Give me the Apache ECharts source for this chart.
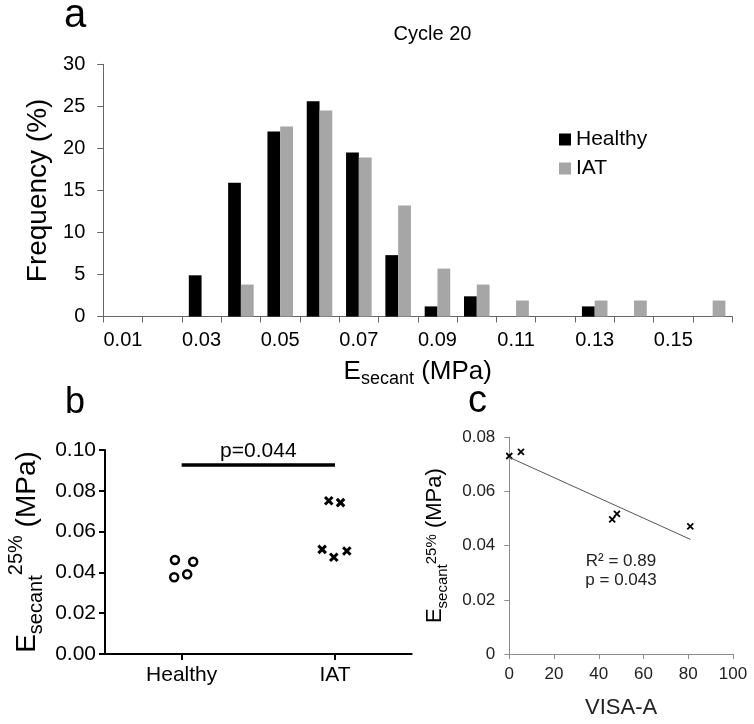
<!DOCTYPE html>
<html>
<head>
<meta charset="utf-8">
<script src="https://cdn.jsdelivr.net/npm/echarts@6/dist/echarts.min.js"></script>
<style>
  html, body { margin: 0; padding: 0; background: #fff; }
  #chart { width: 754px; height: 724px; }
</style>
</head>
<body>
<div id="chart"></div>
<script>
// ---------- Panel a: histogram (Cycle 20) ----------
const bins = ['0.01','0.02','0.03','0.04','0.05','0.06','0.07','0.08','0.09','0.10','0.11','0.12','0.13','0.14','0.15','0.16'];
const healthyFreq = [0, 0, 4.9, 15.9, 22.0, 25.6, 19.5, 7.3, 1.2, 2.4, 0, 0, 1.2, 0, 0, 0];
const iatFreq     = [0, 0, 0, 3.8, 22.6, 24.5, 18.9, 13.2, 5.7, 3.8, 1.9, 0, 1.9, 1.9, 0, 1.9];

// ---------- Panel b: group scatter ----------
const groupsB = ['Healthy', 'IAT'];
const healthyJitter = [-0.044, 0.075, -0.049, 0.036];
const healthyE25    = [0.0461, 0.0452, 0.0376, 0.0391];
const iatJitter = [-0.041, 0.036, -0.084, -0.008, 0.077];
const iatE25    = [0.0751, 0.0742, 0.0513, 0.0474, 0.0505];
const sigBarY = 0.0926;
const sigText = 'p=0.044';

// ---------- Panel c: VISA-A correlation ----------
const visaA    = [0, 5.2, 46, 48.1, 80.9];
const visaE25  = [0.0731, 0.0746, 0.0497, 0.0517, 0.0471];
const trendX   = [0, 81];
const trendY   = [0.0726, 0.0423];
const statsC   = ['R\u00B2 = 0.89', 'p = 0.043'];

const FONT = '"Liberation Sans", Arial, Helvetica, sans-serif';
const crossPath = 'path://M0,0L10,10M10,0L0,10';

const chart = echarts.init(document.getElementById('chart'), null, { renderer: 'canvas' });

const option = {
  animation: false,
  backgroundColor: '#fff',
  textStyle: { fontFamily: FONT, color: '#000' },
  legend: {
    data: ['Healthy', 'IAT'],
    orient: 'vertical',
    left: 559, top: 129,
    itemWidth: 12, itemHeight: 12, itemGap: 8,
    icon: 'rect', padding: 0,
    textStyle: { fontSize: 21, fontFamily: FONT, color: '#000' }
  },
  graphic: [
    { type: 'text', style: { text: 'a', x: 75, y: 16, font: '40px ' + FONT, fill: '#000', textAlign: 'center', textVerticalAlign: 'middle' } },
    { type: 'text', style: { text: 'b', x: 75, y: 403.5, font: '36px ' + FONT, fill: '#000', textAlign: 'center', textVerticalAlign: 'middle' } },
    { type: 'text', style: { text: 'c', x: 477.5, y: 402, font: '38px ' + FONT, fill: '#000', textAlign: 'center', textVerticalAlign: 'middle' } },
    { type: 'text', style: { text: 'Cycle 20', x: 432.5, y: 34.6, font: '20px ' + FONT, fill: '#000', textAlign: 'center', textVerticalAlign: 'middle' } },
    { type: 'text', style: { text: statsC[0], x: 621, y: 561, font: '17px ' + FONT, fill: '#222', textAlign: 'center', textVerticalAlign: 'middle' } },
    { type: 'text', style: { text: statsC[1], x: 621, y: 580, font: '17px ' + FONT, fill: '#222', textAlign: 'center', textVerticalAlign: 'middle' } }
  ],
  grid: [
    { left: 103.3, top: 64.3, right: 21.7, bottom: 407.5, containLabel: false },
    { left: 105, top: 450, right: 342.3, bottom: 70, containLabel: false },
    { left: 509.3, top: 437.3, right: 21, bottom: 70, containLabel: false }
  ],
  xAxis: [
    {
      type: 'category', gridIndex: 0, data: bins, boundaryGap: true,
      axisLine: { lineStyle: { color: '#666', width: 1 } },
      axisTick: { show: true, interval: 0, length: 6, alignWithLabel: false, lineStyle: { color: '#666' } },
      axisLabel: { interval: 1, fontSize: 20, color: '#000', margin: 14, fontFamily: FONT },
      splitLine: { show: false },
      name: '{E|E}{sub|secant}{m| (MPa)}',
      nameLocation: 'middle', nameGap: 40,
      nameTextStyle: {
        fontFamily: FONT, color: '#000',
        rich: {
          E: { fontSize: 26, fontFamily: FONT, lineHeight: 30 },
          sub: { fontSize: 18, fontFamily: FONT, lineHeight: 30, padding: [16, 0, 0, 0] },
          m: { fontSize: 26, fontFamily: FONT, lineHeight: 30 }
        }
      }
    },
    {
      type: 'category', gridIndex: 1, data: groupsB, boundaryGap: true,
      axisLine: { onZero: false, lineStyle: { color: '#000', width: 2 } },
      axisTick: { show: true, alignWithLabel: true, length: 6, lineStyle: { color: '#000', width: 2 } },
      axisLabel: { fontSize: 21, color: '#000', margin: 10.5, fontFamily: FONT },
      splitLine: { show: false }
    },
    {
      type: 'value', gridIndex: 1, min: -0.5, max: 1.5, show: false,
      axisLine: { onZero: false },
      splitLine: { show: false }
    },
    {
      type: 'value', gridIndex: 2, min: 0, max: 100, interval: 20,
      axisLine: { show: true, onZero: false, lineStyle: { color: '#8c8c8c', width: 1 } },
      axisTick: { show: true, length: 5, lineStyle: { color: '#8c8c8c' } },
      axisLabel: { fontSize: 17, color: '#222', margin: 11.5, fontFamily: FONT },
      splitLine: { show: false },
      name: 'VISA-A', nameLocation: 'middle', nameGap: 43,
      nameTextStyle: { fontSize: 22, color: '#222', fontFamily: FONT }
    }
  ],
  yAxis: [
    {
      type: 'value', gridIndex: 0, min: 0, max: 30, interval: 5,
      axisLine: { show: true, onZero: false, lineStyle: { color: '#666', width: 1 } },
      axisTick: { show: true, length: 6, lineStyle: { color: '#666' } },
      axisLabel: { fontSize: 20, color: '#000', margin: 18, fontFamily: FONT },
      splitLine: { show: false },
      name: 'Frequency (%)', nameLocation: 'middle', nameGap: 46,
      nameTextStyle: { fontSize: 28, color: '#000', fontFamily: FONT }
    },
    {
      type: 'value', gridIndex: 1, min: 0, max: 0.10, interval: 0.02,
      axisLine: { show: true, onZero: false, lineStyle: { color: '#000', width: 2 } },
      axisTick: { show: true, length: 6, lineStyle: { color: '#000', width: 2 } },
      axisLabel: { fontSize: 21, color: '#000', margin: 9, fontFamily: FONT, formatter: v => v.toFixed(2) },
      splitLine: { show: false },
      name: '{E|E}{sub|secant}{sup|25%}{m| (MPa)}',
      nameLocation: 'middle', nameGap: 63,
      nameTextStyle: {
        fontFamily: FONT, color: '#000',
        rich: {
          E: { fontSize: 28, fontFamily: FONT, lineHeight: 30 },
          sub: { fontSize: 20, fontFamily: FONT, lineHeight: 30, padding: [19, 0, 0, 0] },
          sup: { fontSize: 20, fontFamily: FONT, lineHeight: 30, padding: [0, 0, 22, 0] },
          m: { fontSize: 28, fontFamily: FONT, lineHeight: 30 }
        }
      }
    },
    {
      type: 'value', gridIndex: 2, min: 0, max: 0.08, interval: 0.02,
      axisLine: { show: true, onZero: false, lineStyle: { color: '#8c8c8c', width: 1 } },
      axisTick: { show: true, length: 5, lineStyle: { color: '#8c8c8c' } },
      axisLabel: { fontSize: 17, color: '#222', margin: 14, fontFamily: FONT, formatter: v => v === 0 ? '0' : v.toFixed(2) },
      splitLine: { show: false },
      name: '{E|E}{sub|secant}{sup|25%}{m| (MPa)}',
      nameLocation: 'middle', nameGap: 61,
      nameTextStyle: {
        fontFamily: FONT, color: '#222',
        rich: {
          E: { fontSize: 22, fontFamily: FONT, lineHeight: 26 },
          sub: { fontSize: 15, fontFamily: FONT, lineHeight: 26, padding: [15, 0, 0, 0] },
          sup: { fontSize: 15, fontFamily: FONT, lineHeight: 26, padding: [0, 0, 7, 0] },
          m: { fontSize: 22, fontFamily: FONT, lineHeight: 26 }
        }
      }
    }
  ],
  series: [
    {
      name: 'Healthy', type: 'bar', xAxisIndex: 0, yAxisIndex: 0,
      data: healthyFreq, barGap: '0%', barCategoryGap: '35%',
      itemStyle: { color: '#000' }
    },
    {
      name: 'IAT', type: 'bar', xAxisIndex: 0, yAxisIndex: 0,
      data: iatFreq, barGap: '0%', barCategoryGap: '35%',
      itemStyle: { color: '#a6a6a6' }
    },
    {
      name: 'sigBar', type: 'line', xAxisIndex: 1, yAxisIndex: 1,
      data: groupsB.map(() => sigBarY), symbol: 'none',
      lineStyle: { color: '#000', width: 3.5 }, z: 3
    },
    {
      name: 'sigLabel', type: 'scatter', xAxisIndex: 2, yAxisIndex: 1,
      data: [[0.5, sigBarY]], symbolSize: 0,
      itemStyle: { opacity: 1 },
      label: { show: true, position: 'top', distance: 3, formatter: sigText, fontSize: 21, color: '#000', fontFamily: FONT }
    },
    {
      name: 'HealthyPts', type: 'scatter', xAxisIndex: 2, yAxisIndex: 1,
      data: healthyE25.map((v, i) => [0 + healthyJitter[i], v]),
      symbol: 'circle', symbolSize: 8,
      itemStyle: { color: '#fff', borderColor: '#000', borderWidth: 2.5, opacity: 1 }
    },
    {
      name: 'IATPts', type: 'scatter', xAxisIndex: 2, yAxisIndex: 1,
      data: iatE25.map((v, i) => [1 + iatJitter[i], v]),
      symbol: crossPath, symbolSize: 7.5,
      itemStyle: { color: '#000', borderColor: '#000', borderWidth: 3, opacity: 1 }
    },
    {
      name: 'trend', type: 'line', xAxisIndex: 3, yAxisIndex: 2,
      data: trendX.map((x, i) => [x, trendY[i]]), symbol: 'none',
      lineStyle: { color: '#555', width: 1 }
    },
    {
      name: 'VISAPts', type: 'scatter', xAxisIndex: 3, yAxisIndex: 2,
      data: visaA.map((x, i) => [x, visaE25[i]]),
      symbol: crossPath, symbolSize: 6,
      itemStyle: { color: '#000', borderColor: '#000', borderWidth: 1.8, opacity: 1 }
    }
  ]
};

chart.setOption(option);
</script>
</body>
</html>
